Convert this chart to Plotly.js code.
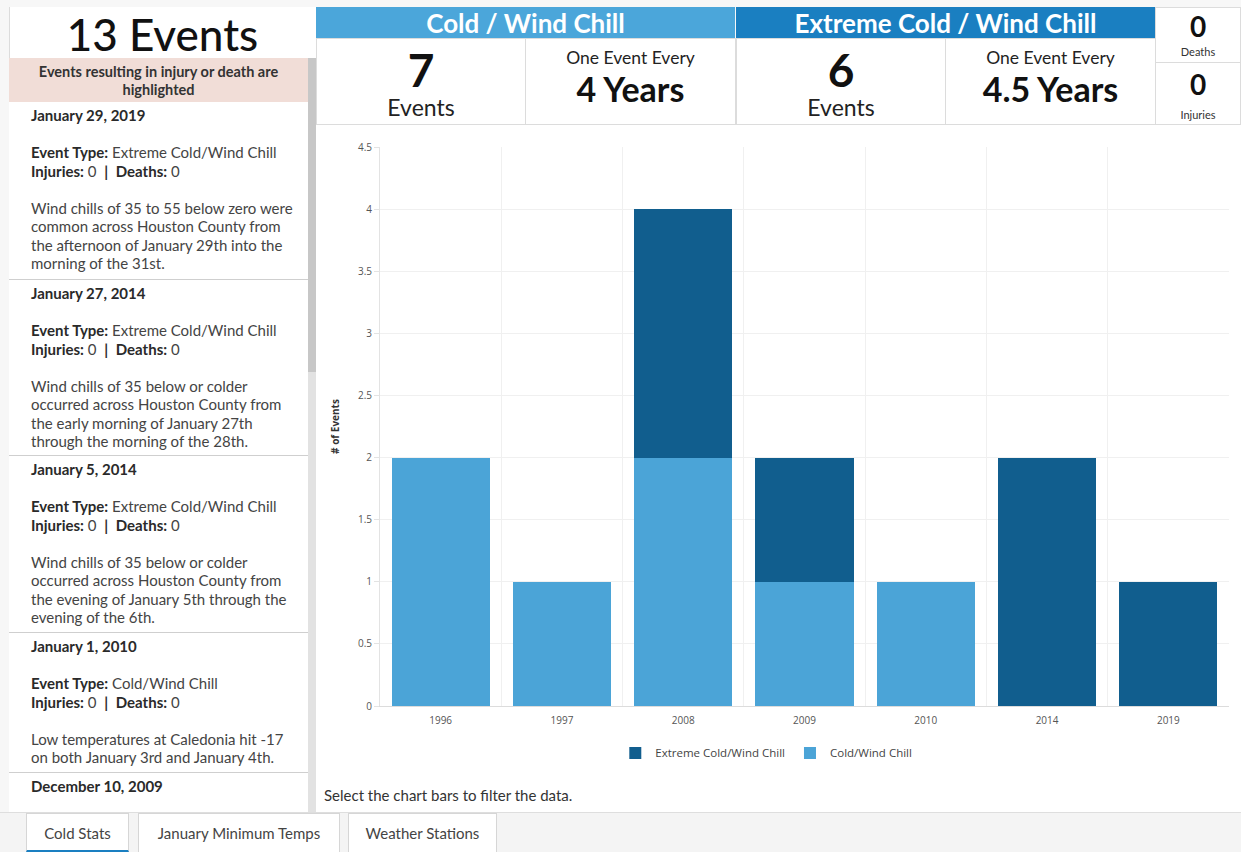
<!DOCTYPE html>
<html>
<head>
<meta charset="utf-8">
<script src="https://cdn.plot.ly/plotly-3.0.1.min.js"></script>
<style>
  html, body { margin:0; padding:0; width:1241px; height:852px; overflow:hidden; background:#f7f7f7; font-family: Lato, "Open Sans", sans-serif; color:#222; }
  .abs { position:absolute; box-sizing:border-box; }
  .cell { background:#fff; border:1px solid #dcdcdc; text-align:center; }
  .item { position:absolute; left:9px; width:299px; border-bottom:1px solid #cfcfcf; background:#fff; padding-left:22px; font-size:15px; line-height:18.5px; color:#444; box-sizing:border-box; white-space:nowrap; }
  .item b { color:#2a2a2a; }
  .tab { position:absolute; top:813px; height:39px; background:#fff; border:1px solid #d6d6d6; border-bottom:none; font-size:15px; color:#444; text-align:center; line-height:38px; box-sizing:border-box; }
</style>
</head>
<body>
<!-- left panel -->
<div class="abs" style="left:9px; top:7px; width:307px; height:806px; background:#fff; border-left:1px solid #dcdcdc;"></div>
<div class="abs" id="total" style="left:9px; top:7px; width:307px; height:51px; text-align:center; font-size:44px; font-weight:500; line-height:54px; color:#111;"></div>
<div class="abs" style="left:9px; top:58px; width:299px; height:44px; background:#f1ddd7; text-align:center; font-size:14.5px; font-weight:700; line-height:18px; padding-top:5px; color:#333; white-space:nowrap;">Events resulting in injury or death are<br>highlighted</div>
<div id="list"></div>
<div class="abs" style="left:308px; top:58px; width:8px; height:755px; background:#e2e2e2;"></div>
<div class="abs" style="left:308px; top:58px; width:8px; height:314px; background:#c7c7c7;"></div>

<!-- right white area -->
<div class="abs" style="left:316px; top:124px; width:925px; height:689px; background:#fff;"></div>

<!-- header -->
<div class="abs" id="h1" style="left:316px; top:7px; width:419px; height:31px; background:#4ba6da; color:#fff; font-size:26px; font-weight:700; text-align:center; line-height:32px;"></div>
<div class="abs" id="h2" style="left:736px; top:7px; width:419px; height:31px; background:#1a7fc1; color:#fff; font-size:26px; font-weight:700; text-align:center; line-height:32px;"></div>
<div class="abs cell" style="left:316px; top:38px; width:210px; height:87px;">
  <div id="c1n" style="font-size:46px; font-weight:700; line-height:52px; margin-top:5px; color:#111;"></div>
  <div style="font-size:23px; line-height:23px; color:#222;">Events</div>
</div>
<div class="abs cell" style="left:525px; top:38px; width:211px; height:87px;">
  <div style="font-size:17.5px; line-height:20px; margin-top:9px; color:#222;">One Event Every</div>
  <div id="c1r" style="font-size:34px; font-weight:700; line-height:38px; margin-top:2px; color:#111;"></div>
</div>
<div class="abs cell" style="left:736px; top:38px; width:210px; height:87px;">
  <div id="c2n" style="font-size:46px; font-weight:700; line-height:52px; margin-top:5px; color:#111;"></div>
  <div style="font-size:23px; line-height:23px; color:#222;">Events</div>
</div>
<div class="abs cell" style="left:945px; top:38px; width:211px; height:87px;">
  <div style="font-size:17.5px; line-height:20px; margin-top:9px; color:#222;">One Event Every</div>
  <div id="c2r" style="font-size:34px; font-weight:700; line-height:38px; margin-top:2px; color:#111;"></div>
</div>
<div class="abs cell" style="left:1155px; top:7px; width:86px; height:56px;">
  <div id="dn" style="font-size:28px; font-weight:700; line-height:30px; margin-top:3px; color:#111;"></div>
  <div style="font-size:11px; line-height:14px; margin-top:4px; color:#333;">Deaths</div>
</div>
<div class="abs cell" style="left:1155px; top:62px; width:86px; height:63px;">
  <div id="in" style="font-size:28px; font-weight:700; line-height:30px; margin-top:6px; color:#111;"></div>
  <div style="font-size:11px; line-height:14px; margin-top:9px; color:#333;">Injuries</div>
</div>

<div class="abs" id="chart" style="left:316px; top:126px; width:925px; height:660px;"></div>
<div class="abs" style="left:324px; top:786px; font-size:15px; color:#333; line-height:18px;">Select the chart bars to filter the data.</div>

<!-- tabs -->
<div class="abs" style="left:0; top:812px; width:1241px; height:40px; background:#f4f4f4; border-top:1px solid #dedede;"></div>
<div class="tab" style="left:26px; width:103px; border-bottom:2px solid #1a7fc1;">Cold Stats</div>
<div class="tab" style="left:138px; width:202px;">January Minimum Temps</div>
<div class="tab" style="left:348px; width:149px;">Weather Stations</div>

<script>
// ---- data ----
const years = ['1996', '1997', '2008', '2009', '2010', '2014', '2019'];
const coldValues = [2, 1, 2, 1, 1, 0, 0];
const extremeValues = [0, 0, 2, 1, 0, 2, 1];
const seriesNames = ['Cold/Wind Chill', 'Extreme Cold/Wind Chill'];
const headerTitles = ['Cold / Wind Chill', 'Extreme Cold / Wind Chill'];
const eventCounts = [7, 6];
const recurrence = ['4 Years', '4.5 Years'];
const totalEvents = 13;
const deaths = 0;
const injuries = 0;
const listDates = ['January 29, 2019', 'January 27, 2014', 'January 5, 2014', 'January 1, 2010', 'December 10, 2009'];
const listTypes = ['Extreme Cold/Wind Chill', 'Extreme Cold/Wind Chill', 'Extreme Cold/Wind Chill', 'Cold/Wind Chill', ''];
const listInjuries = [0, 0, 0, 0, null];
const listDeaths = [0, 0, 0, 0, null];
const listText = [
  ['Wind chills of 35 to 55 below zero were', 'common across Houston County from', 'the afternoon of January 29th into the', 'morning of the 31st.'],
  ['Wind chills of 35 below or colder', 'occurred across Houston County from', 'the early morning of January 27th', 'through the morning of the 28th.'],
  ['Wind chills of 35 below or colder', 'occurred across Houston County from', 'the evening of January 5th through the', 'evening of the 6th.'],
  ['Low temperatures at Caledonia hit -17', 'on both January 3rd and January 4th.'],
  []
];

// ---- header/text ----
document.getElementById('total').textContent = totalEvents + ' Events';
document.getElementById('h1').textContent = headerTitles[0];
document.getElementById('h2').textContent = headerTitles[1];
document.getElementById('c1n').textContent = eventCounts[0];
document.getElementById('c2n').textContent = eventCounts[1];
document.getElementById('c1r').textContent = recurrence[0];
document.getElementById('c2r').textContent = recurrence[1];
document.getElementById('dn').textContent = deaths;
document.getElementById('in').textContent = injuries;

const tops = [102, 280, 456, 633, 773];
const heights = [178, 176, 177, 140, 40];
let html = '';
listDates.forEach((d, i) => {
  let s = '<div class="item" style="top:' + tops[i] + 'px; height:' + heights[i] + 'px; padding-top:4px;' + (i === 4 ? 'border-bottom:none;' : '') + '">';
  s += '<b>' + d + '</b><br>';
  if (listTypes[i]) {
    s += '<br><b>Event Type:</b> ' + listTypes[i] + '<br>';
    s += '<b>Injuries:</b> ' + listInjuries[i] + '&nbsp; <b>|</b>&nbsp; <b>Deaths:</b> ' + listDeaths[i] + '<br><br>';
    s += listText[i].join('<br>');
  }
  s += '</div>';
  html += s;
});
document.getElementById('list').innerHTML = html;

// ---- chart ----
const traces = [
  { type: 'bar', x: years, y: coldValues, name: seriesNames[0], marker: { color: '#4ba4d7' }, hoverinfo: 'none' },
  { type: 'bar', x: years, y: extremeValues, name: seriesNames[1], marker: { color: '#115e8e' }, hoverinfo: 'none' }
];
const layout = {
  barmode: 'stack',
  bargap: 0.19,
  width: 925, height: 660,
  margin: { l: 64, r: 12, t: 21, b: 80 },
  paper_bgcolor: 'rgba(0,0,0,0)',
  plot_bgcolor: '#fff',
  font: { family: '"Open Sans", Lato, sans-serif', size: 10, color: '#555' },
  xaxis: {
    type: 'category', tickson: 'boundaries', showgrid: true, gridcolor: '#f0f0f0',
    showline: true, linecolor: '#dcdcdc', ticks: '', ticklabelstandoff: 5,
    tickfont: { size: 10, color: '#555' }, fixedrange: true
  },
  yaxis: {
    range: [0, 4.5], dtick: 0.5, showgrid: true, gridcolor: '#f0f0f0', zeroline: false,
    showline: true, linecolor: '#e3e3e3', ticks: 'outside', ticklen: 5, tickcolor: '#e3e3e3',
    tickfont: { size: 10, color: '#555' }, fixedrange: true,
    title: { text: '<b># of Events</b>', font: { size: 10, color: '#333' }, standoff: 16 }
  },
  legend: {
    orientation: 'h', traceorder: 'reversed', x: 0.455, xanchor: 'center', y: -0.084, yanchor: 'middle',
    font: { size: 11.5, color: '#444' }, itemclick: false
  },
  showlegend: true
};
Plotly.newPlot('chart', traces, layout, { displayModeBar: false, staticPlot: true });
</script>
</body>
</html>
